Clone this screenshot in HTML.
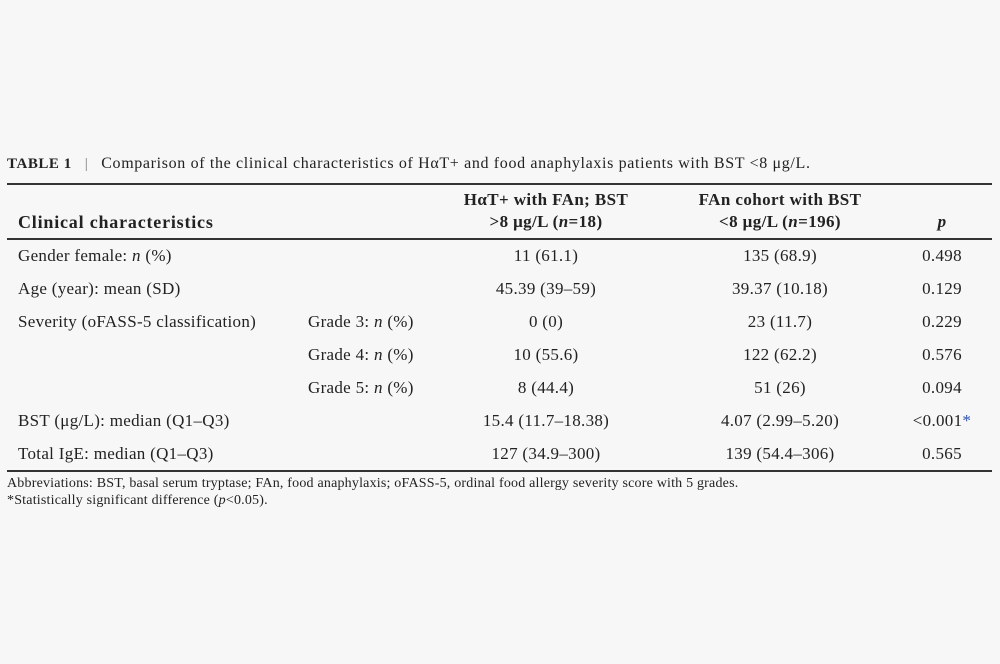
<!DOCTYPE html>
<html><head><meta charset="utf-8"><style>
html,body{margin:0;padding:0}
body{width:1000px;height:664px;background:#f7f7f7;position:relative;overflow:hidden;font-family:"Liberation Serif","DejaVu Serif",serif;color:#222}
.t{position:absolute;white-space:nowrap;font-size:17px;line-height:20px;letter-spacing:0.3px}
.c{transform:translateX(-50%);text-align:center}
.b{font-weight:bold}
.hr{position:absolute;left:7px;width:985px;background:#333}
.s{font-size:14px;letter-spacing:0.2px}
</style></head><body>
<div class="t" style="left:7px;top:154px;font-size:15px;letter-spacing:0.55px"><b>TABLE 1</b> &nbsp;&nbsp;<span style="color:#777">|</span>&nbsp;&nbsp; <span style="font-size:16px;letter-spacing:0.65px">Comparison of the clinical characteristics of HαT+ and food anaphylaxis patients with BST &lt;8 μg/L.</span></div>
<div class="hr" style="top:183px;height:1.5px"></div>
<div class="t b" style="left:18px;top:212px;font-size:18px;letter-spacing:0.8px">Clinical characteristics</div>
<div class="t b c" style="left:546px;top:189px;font-size:17px;line-height:22px;letter-spacing:0.4px">HαT+ with FAn; BST<br>&gt;8 μg/L (<i>n</i>=18)</div>
<div class="t b c" style="left:780px;top:189px;font-size:17px;line-height:22px;letter-spacing:0.4px">FAn cohort with BST<br>&lt;8 μg/L (<i>n</i>=196)</div>
<div class="t b c" style="left:942px;top:212px"><i>p</i></div>
<div class="hr" style="top:238px;height:1.5px"></div>

<div class="t" style="left:18px;top:246px">Gender female: <i>n</i> (%)</div>
<div class="t c" style="left:546px;top:246px">11 (61.1)</div>
<div class="t c" style="left:780px;top:246px">135 (68.9)</div>
<div class="t c" style="left:942px;top:246px">0.498</div>

<div class="t" style="left:18px;top:279px">Age (year): mean (SD)</div>
<div class="t c" style="left:546px;top:279px">45.39 (39–59)</div>
<div class="t c" style="left:780px;top:279px">39.37 (10.18)</div>
<div class="t c" style="left:942px;top:279px">0.129</div>

<div class="t" style="left:18px;top:312px">Severity (oFASS-5 classification)</div>
<div class="t" style="left:308px;top:312px">Grade 3: <i>n</i> (%)</div>
<div class="t c" style="left:546px;top:312px">0 (0)</div>
<div class="t c" style="left:780px;top:312px">23 (11.7)</div>
<div class="t c" style="left:942px;top:312px">0.229</div>

<div class="t" style="left:308px;top:345px">Grade 4: <i>n</i> (%)</div>
<div class="t c" style="left:546px;top:345px">10 (55.6)</div>
<div class="t c" style="left:780px;top:345px">122 (62.2)</div>
<div class="t c" style="left:942px;top:345px">0.576</div>

<div class="t" style="left:308px;top:378px">Grade 5: <i>n</i> (%)</div>
<div class="t c" style="left:546px;top:378px">8 (44.4)</div>
<div class="t c" style="left:780px;top:378px">51 (26)</div>
<div class="t c" style="left:942px;top:378px">0.094</div>

<div class="t" style="left:18px;top:411px">BST (μg/L): median (Q1–Q3)</div>
<div class="t c" style="left:546px;top:411px">15.4 (11.7–18.38)</div>
<div class="t c" style="left:780px;top:411px">4.07 (2.99–5.20)</div>
<div class="t c" style="left:942px;top:411px">&lt;0.001<span style="color:#2a4fb0">*</span></div>

<div class="t" style="left:18px;top:444px">Total IgE: median (Q1–Q3)</div>
<div class="t c" style="left:546px;top:444px">127 (34.9–300)</div>
<div class="t c" style="left:780px;top:444px">139 (54.4–306)</div>
<div class="t c" style="left:942px;top:444px">0.565</div>

<div class="hr" style="top:470px;height:1.5px"></div>
<div class="t s" style="left:7px;top:475px;line-height:17px">Abbreviations: BST, basal serum tryptase; FAn, food anaphylaxis; oFASS-5, ordinal food allergy severity score with 5 grades.<br>*Statistically significant difference (<i>p</i>&lt;0.05).</div>
</body></html>
